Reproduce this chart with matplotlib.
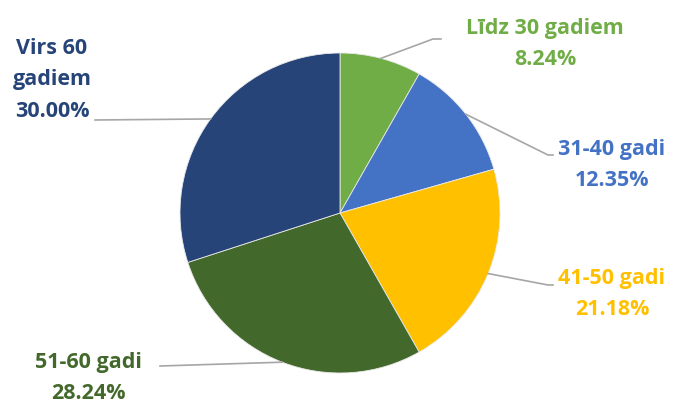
import numpy as np
import matplotlib.pyplot as plt

labels = ["Līdz 30 gadiem", "31-40 gadi", "41-50 gadi", "51-60 gadi", "Virs 60\ngadiem"]
shares = [8.24, 12.35, 21.18, 28.24, 30.00]
colors = ["#70AD47", "#4472C4", "#FFC000", "#43682B", "#264478"]
text_colors = ["#70AD47", "#4472C4", "#FFC000", "#43682B", "#264478"]

W, H = 678, 408
cx, cy, r = 340, H - 213, 160

fig = plt.figure(figsize=(W / 100, H / 100), dpi=100)
ax = fig.add_axes([0, 0, 1, 1])

wedges, _ = ax.pie(shares, colors=colors, startangle=90, counterclock=False,
                   center=(cx, cy), radius=r, frame=True,
                   wedgeprops=dict(edgecolor="#E8E8E8", linewidth=0.6))
ax.set_xlim(0, W)
ax.set_ylim(0, H)
ax.set_aspect("equal")
ax.axis("off")

# label layout (pixel coords from top): text center, leader elbow, leader end
text_pos = [(545, 44), (612, 165), (612, 294), (88, 378), (52, 80)]
elbows = [(433, 39), (548, 155), (548, 285), (160, 366), (95, 120)]
ends = [(441, 39), (553, 155), (553, 285), None, None]

for w, lab, val, tc, tp, el, en in zip(wedges, labels, shares, text_colors,
                                       text_pos, elbows, ends):
    mid = np.deg2rad((w.theta1 + w.theta2) / 2)
    px, py = cx + r * np.cos(mid), cy + r * np.sin(mid)
    xs = [px, el[0]]
    ys = [py, H - el[1]]
    if en is not None:
        xs.append(en[0])
        ys.append(H - en[1])
    ax.plot(xs, ys, color="#A6A6A6", lw=1.2, zorder=3)
    ax.text(tp[0], H - tp[1], f"{lab}\n{val:.2f}%", ha="center", va="center",
            color=tc, fontsize=15.5, fontweight="bold", family="Open Sans",
            linespacing=1.65)

fig.savefig("out.png", dpi=100)
